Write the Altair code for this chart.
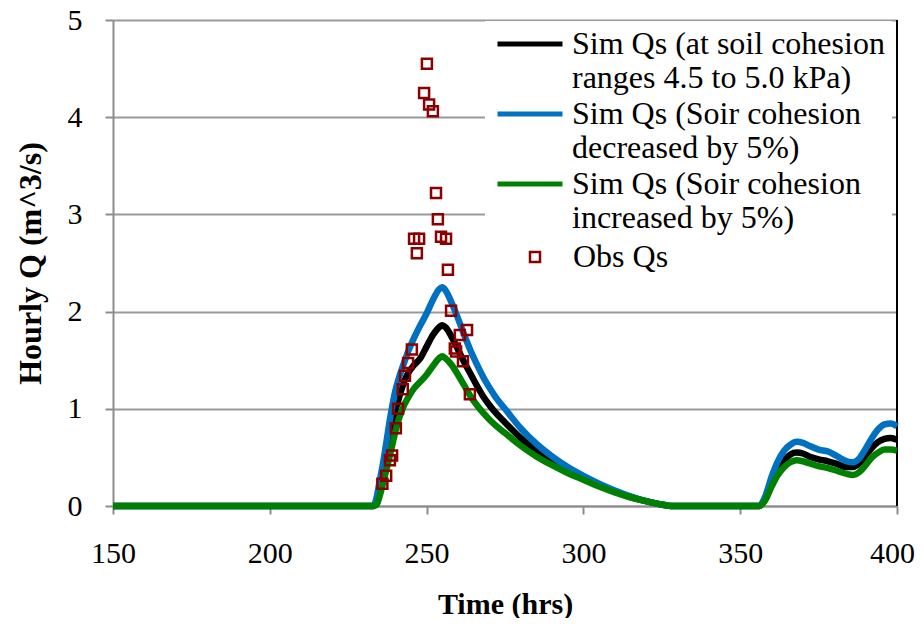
import altair as alt
import pandas as pd

# ---- data ----
sim_t = [150, 233, 234, 235, 236, 237, 238, 239, 240, 241, 242, 243, 244, 246, 248, 250,
         252, 254, 255, 256, 258, 260, 262, 264, 266, 268, 270, 272, 275, 280, 285,
         290, 295, 300, 305, 310, 315, 320, 325, 328, 356, 358, 360, 362, 364, 366,
         368, 370, 372, 375, 378, 381, 384, 386, 388, 390, 392, 394, 396, 398, 400]

sim_base = [0, 0, 0.02, 0.15, 0.30, 0.48, 0.67, 0.85, 0.98, 1.09, 1.20, 1.29, 1.36, 1.45, 1.52, 1.64,
            1.76, 1.84, 1.86, 1.84, 1.74, 1.61, 1.48, 1.36, 1.24, 1.13, 1.04, 0.96, 0.86, 0.70, 0.57,
            0.46, 0.37, 0.29, 0.21, 0.15, 0.09, 0.05, 0.015, 0, 0, 0.08, 0.25, 0.38, 0.47, 0.53,
            0.55, 0.54, 0.51, 0.48, 0.46, 0.43, 0.40, 0.40, 0.44, 0.52, 0.60, 0.66, 0.69, 0.70, 0.68]

sim_minus5 = [0, 0, 0.08, 0.25, 0.42, 0.62, 0.83, 1.02, 1.18, 1.30, 1.40, 1.49, 1.58, 1.73, 1.86, 1.98,
              2.12, 2.23, 2.25, 2.22, 2.09, 1.93, 1.76, 1.60, 1.46, 1.33, 1.22, 1.12, 1.00, 0.80, 0.64,
              0.51, 0.40, 0.31, 0.23, 0.16, 0.10, 0.05, 0.015, 0, 0, 0.10, 0.30, 0.46, 0.57, 0.63,
              0.66, 0.65, 0.62, 0.58, 0.56, 0.51, 0.46, 0.45, 0.49, 0.59, 0.70, 0.79, 0.84, 0.85, 0.82]

sim_plus5 = [0, 0, 0.01, 0.10, 0.22, 0.35, 0.48, 0.62, 0.76, 0.88, 0.97, 1.05, 1.11, 1.21, 1.28, 1.35,
             1.44, 1.52, 1.54, 1.52, 1.45, 1.35, 1.24, 1.13, 1.04, 0.96, 0.89, 0.83, 0.75, 0.62, 0.51,
             0.42, 0.34, 0.27, 0.20, 0.14, 0.09, 0.05, 0.015, 0, 0, 0.06, 0.20, 0.32, 0.40, 0.45,
             0.47, 0.46, 0.44, 0.41, 0.39, 0.36, 0.33, 0.32, 0.35, 0.42, 0.50, 0.55, 0.58, 0.58, 0.57]

obs_t = [235.9, 237.1, 238.3, 239.0, 240.2, 240.9, 242.4, 243.1, 244.1, 245.3,
         246.0, 246.9, 247.6, 249.2, 250.1, 250.8, 252.0, 253.0, 253.6, 254.6,
         256.2, 256.8, 257.8, 259.0, 259.4, 260.6, 261.6, 262.9, 263.8]
obs_q = [0.23, 0.31, 0.47, 0.52, 0.80, 1.00, 1.20, 1.34, 1.47, 1.61,
         2.75, 2.60, 2.75, 4.25, 4.55, 4.13, 4.06, 3.22, 2.95, 2.77,
         2.75, 2.43, 2.01, 1.62, 1.59, 1.76, 1.49, 1.81, 1.15]

series_names = ["Sim Qs (at soil cohesion|ranges 4.5 to 5.0 kPa)",
                "Sim Qs (Soir cohesion|decreased by 5%)",
                "Sim Qs (Soir cohesion|increased by 5%)"]
series_colors = ["#000000", "#0070C0", "#008000"]
obs_name = "Obs Qs"

x_ticks = [150, 200, 250, 300, 350, 400]
y_ticks = [0, 1, 2, 3, 4, 5]

# ---- tables ----
rows = []
for name, vals in zip(series_names, [sim_base, sim_minus5, sim_plus5]):
    for t, q in zip(sim_t, vals):
        rows.append({"t": t, "q": q, "series": name})
sim_df = pd.DataFrame(rows)
obs_df = pd.DataFrame({"t": obs_t, "q": obs_q, "kind": obs_name})
frame_df = pd.DataFrame({"t": [400], "q0": [0], "q1": [5]})

FONT = "Liberation Serif"

x_enc = alt.X("t:Q", scale=alt.Scale(domain=[150, 400], nice=False),
              axis=alt.Axis(title="Time (hrs)", values=x_ticks, grid=False, format="d",
                            labelFont=FONT, labelFontSize=30, labelColor="black",
                            labelFlush=False, titleFontSize=30,
                            labelOffset={"condition": {"test": "datum.value >= 400", "value": -5},
                                         "value": 0}))
y_enc = alt.Y("q:Q", scale=alt.Scale(domain=[0, 5], nice=False),
              axis=alt.Axis(title="Hourly Q (m^3/s)", values=y_ticks, grid=True, format="d",
                            labelFont=FONT, labelFontSize=30, labelColor="black",
                            labelFlush=False, titleFontSize=32))

frame = alt.Chart(frame_df).mark_rule(color="black", strokeWidth=2).encode(
    x=alt.X("t:Q", scale=alt.Scale(domain=[150, 400], nice=False)),
    y=alt.Y("q0:Q", scale=alt.Scale(domain=[0, 5], nice=False)),
    y2="q1:Q",
)

lines = alt.Chart(sim_df).mark_line(strokeWidth=6.5, interpolate="monotone").encode(
    x=x_enc,
    y=y_enc,
    color=alt.Color("series:N",
                    scale=alt.Scale(domain=series_names, range=series_colors),
                    sort=series_names,
                    legend=alt.Legend(
                        title=None, orient="none", legendX=372, legendY=1,
                        padding=7, fillColor="white",
                        symbolType="M-4,0L4,0", symbolSize=264, symbolStrokeWidth=5,
                        symbolOffset=22,
                        labelFont=FONT, labelFontSize=32, labelColor="black",
                        labelLimit=500, labelOffset=26, rowPadding=4,
                        labelExpr="split(datum.label, '|')",
                    )),
    order=alt.Order("t:Q"),
)

points = alt.Chart(obs_df).mark_point(shape="square", filled=False, size=100,
                                      strokeWidth=2.5, color="#8B0000", opacity=1).encode(
    x="t:Q",
    y="q:Q",
    shape=alt.Shape("kind:N", scale=alt.Scale(domain=[obs_name], range=["square"]),
                    legend=alt.Legend(
                        title=None, orient="none", legendX=406, legendY=221,
                        padding=0, symbolSize=100, symbolStrokeWidth=2.5,
                        symbolStrokeColor="#8B0000", symbolFillColor="transparent",
                        labelFont=FONT, labelFontSize=32, labelColor="black",
                        labelOffset=22,
                    )),
)

chart = alt.layer(frame, lines, points).resolve_legend(
    color="independent", shape="independent"
).properties(
    width=784, height=486,
    autosize=alt.AutoSizeParams(type="none"),
    padding={"left": 105, "top": 12, "right": 18, "bottom": 112},
).configure(
    style={"guide-label": {"font": FONT, "fontSize": 30, "fill": "black"}}
).configure_view(stroke=None).configure_axis(
    labelFont=FONT, labelFontSize=30, labelColor="black",
    titleFont=FONT, titleFontWeight="bold", titleColor="black",
    domainColor="#8c8c8c", domainWidth=2, tickColor="#8c8c8c", tickWidth=2, tickSize=8,
    gridColor="#999999", gridWidth=2,
).configure_axisX(labelPadding=24, titlePadding=21).configure_axisY(
    labelPadding=23, titlePadding=20
)

chart.save("out.html", embed_options={"renderer": "svg", "actions": False})
